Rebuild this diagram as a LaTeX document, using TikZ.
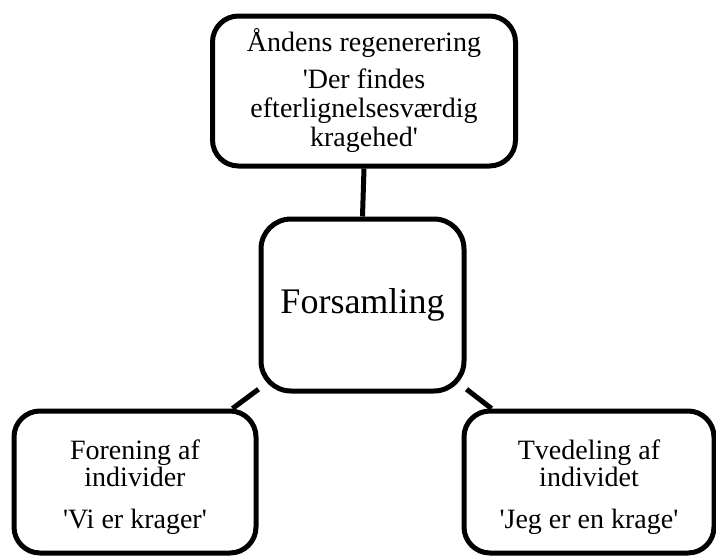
\documentclass[tikz,border=0pt]{standalone}
\usepackage{fontspec}
\setmainfont{Liberation Serif}
\usetikzlibrary{backgrounds}
\newcommand{\sq}{\textquotesingle}
\newcommand{\topstrut}{\rule{0pt}{31pt}}
\begin{document}
\begin{tikzpicture}[x=1pt,y=-1pt,
  box/.style={draw=black, line width=5pt, fill=white, rounded corners=26pt, align=center, inner sep=0pt},
  conn/.style={draw=black, line width=5pt},
  txt/.style={font=\fontsize{28}{29}\selectfont},
  txtb/.style={font=\fontsize{28}{27}\selectfont}]
\useasboundingbox (0,0) rectangle (716,557);
\node[box, txt, minimum width=303pt, minimum height=150pt] (top) at (364,91)
  {Åndens regenerering\\[8pt]\sq Der findes\\efterlignelsesværdig\\kragehed\sq};
\node[box, minimum width=203pt, minimum height=172pt, rounded corners=30pt,
  font=\fontsize{36}{40}\selectfont] (mid) at (362.5,305) {Forsamling};
\node[box, txtb, minimum width=242pt, minimum height=142pt] (bl) at (135,482)
  {\topstrut Forening af\\individer\\[15pt]\sq Vi er krager\sq};
\node[box, txtb, minimum width=250pt, minimum height=142pt] (br) at (589,482)
  {\topstrut Tvedeling af\\individet\\[15pt]\sq Jeg er en krage\sq};
\begin{pgfonlayer}{background}
  \fill[white] (0,0) rectangle (716,557);
  \draw[conn] (top.south) -- (mid.north);
  \draw[conn] (mid.219) -- (bl.37);
  \draw[conn] (mid.321) -- (br.143);
\end{pgfonlayer}
\end{tikzpicture}
\end{document}
